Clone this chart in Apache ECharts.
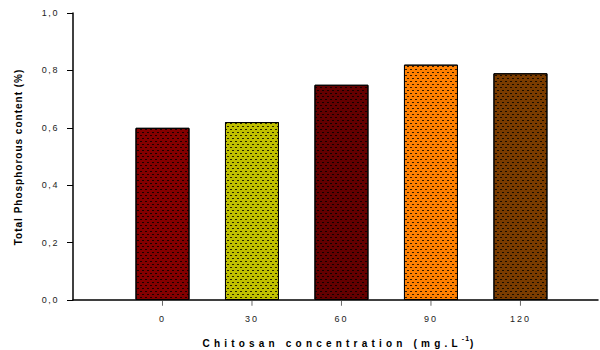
<!DOCTYPE html>
<html>
<head>
<meta charset="utf-8">
<script src="https://cdn.jsdelivr.net/npm/echarts@6/dist/echarts.min.js"></script>
<style>
  html, body { margin: 0; padding: 0; background: #fff; }
  #chart { width: 600px; height: 350px; }
</style>
</head>
<body>
<div id="chart"></div>
<script>
// Chitosan dose (mg/L) and the total phosphorus measured for each dose (%)
const concentrations = [0, 30, 60, 90, 120];
const phosphorus = [0.60, 0.62, 0.75, 0.82, 0.79];
const barColors = ['#840000', '#c0c000', '#640000', '#ff8000', '#7a3c00'];
const yTickStep = 0.2;

const FONT = '"Liberation Sans", Arial, Helvetica, sans-serif';

// Speckled fill used on every bar
const speckle = {
  symbol: 'rect',
  symbolSize: 1,
  color: 'rgba(0,0,0,0.8)',
  dashArrayX: [[2, 3], [0, 2, 2, 1]],
  dashArrayY: [1, 2]
};

const chart = echarts.init(document.getElementById('chart'), null, { renderer: 'svg' });

chart.setOption({
  animation: false,
  backgroundColor: '#fff',
  grid: { left: 73, right: 2, top: 13, bottom: 50 },
  xAxis: {
    type: 'value',
    min: -30,
    max: 146,
    interval: 30,
    splitLine: { show: false },
    axisLine: { show: true, onZero: false, lineStyle: { color: '#000', width: 1.5 } },
    axisTick: { show: false },
    axisLabel: {
      customValues: concentrations,
      fontFamily: FONT,
      fontSize: 9,
      color: '#222',
      margin: 14
    }
  },
  yAxis: {
    type: 'value',
    min: 0,
    max: 1,
    interval: yTickStep,
    splitLine: { show: false },
    axisLine: { show: true, onZero: false, lineStyle: { color: '#000', width: 1.5 } },
    axisTick: { show: true, length: 6, lineStyle: { color: '#000', width: 1 } },
    axisLabel: {
      fontFamily: FONT,
      fontSize: 9,
      color: '#222',
      margin: 14,
      formatter: v => v.toFixed(1).replace('.', ',')
    }
  },
  series: [
    {
      type: 'bar',
      barWidth: 54,
      data: concentrations.map((c, i) => ({
        value: [c, phosphorus[i]],
        itemStyle: { color: barColors[i], decal: speckle }
      })),
      itemStyle: { borderColor: '#000', borderWidth: 1 }
    },
    {
      // short tick marks under the x axis at each dose
      type: 'scatter',
      silent: true,
      clip: false,
      symbol: 'rect',
      symbolSize: [1, 5],
      symbolOffset: [0, 3.2],
      itemStyle: { color: '#444' },
      data: concentrations.map(c => [c, 0])
    }
  ],
  graphic: [
    { type: 'text', x: 18, y: 157, rotation: Math.PI / 2, style: { text: 'Total Phosphorous content (%)', font: 'bold 10px ' + FONT, fill: '#000', align: 'left', verticalAlign: 'middle' } },
    { type: 'text', x: 340, y: 343, style: { text: 'Chitosan concentration (mg.L', font: 'bold 10px ' + FONT, fill: '#000', align: 'left', verticalAlign: 'middle' } },
    { type: 'text', x: 340, y: 338, style: { text: '-1', font: 'bold 7px ' + FONT, fill: '#000', align: 'left', verticalAlign: 'middle' } },
    { type: 'text', x: 340, y: 343, style: { text: ')', font: 'bold 10px ' + FONT, fill: '#000', align: 'left', verticalAlign: 'middle' } }
  ]
});

// Wide letter spacing on the axis texts, then centre the titles on their axes
const svg = chart.getDom().querySelector('svg');
const texts = Array.from(svg.querySelectorAll('text'));
const xTitle = [];
texts.forEach(t => {
  const s = t.textContent;
  if (s === 'Chitosan concentration (mg.L' || s === ')') {
    t.style.letterSpacing = '4.2px';
    xTitle.push(t);
  } else if (s === '-1') {
    t.style.letterSpacing = '1px';
    xTitle.push(t);
  } else if (s.startsWith('Total')) {
    t.style.letterSpacing = '1px';
    const w = t.getComputedTextLength();
    t.setAttribute('x', (-w / 2).toFixed(1));
  } else if (/^\d,\d$/.test(s)) {
    t.style.letterSpacing = '1.6px';
  } else if (/^\d+$/.test(s)) {
    t.style.letterSpacing = '2px';
  }
});
const order = s => (s === ')' ? 2 : s === '-1' ? 1 : 0);
xTitle.sort((a, b) => order(a.textContent) - order(b.textContent));
const widths = xTitle.map(t => t.getComputedTextLength());
const total = widths.reduce((a, b) => a + b, 0);
let offset = -total / 2;
xTitle.forEach((t, i) => {
  t.setAttribute('x', offset.toFixed(1));
  offset += widths[i];
});
</script>
</body>
</html>
